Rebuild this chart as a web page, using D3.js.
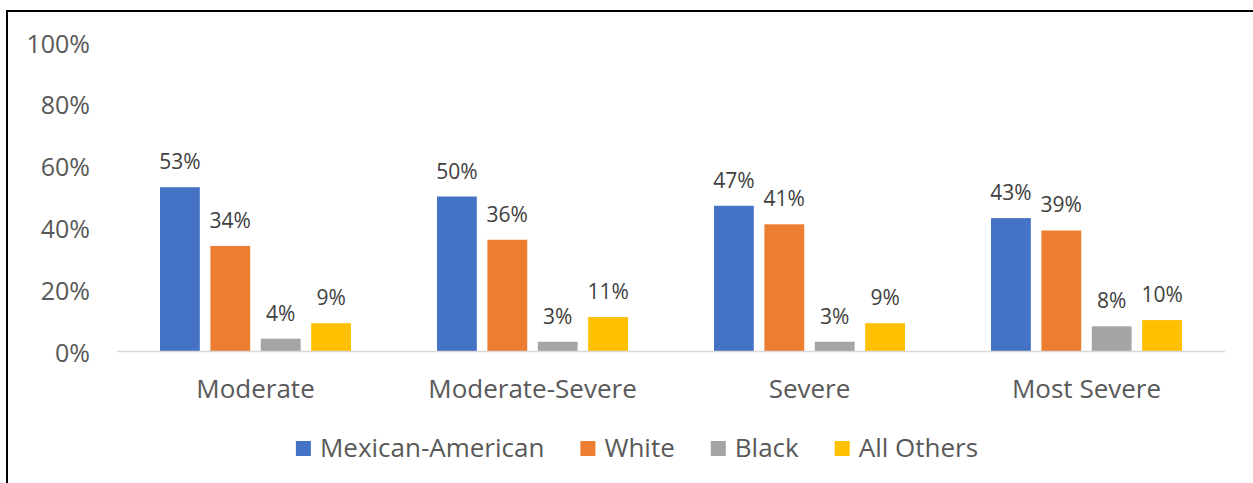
<!DOCTYPE html>
<html>
<head>
<meta charset="utf-8">
<script src="https://cdn.jsdelivr.net/npm/d3@7"></script>
<style>
  html, body { margin: 0; padding: 0; background: #fff; }
  svg { display: block; }
  text { font-family: "Open Sans", "Noto Sans", sans-serif; }
</style>
</head>
<body>
<svg id="chart" width="1253" height="483"></svg>
<script>
// Share of each group by severity level (percent)
const categories = ["Moderate", "Moderate-Severe", "Severe", "Most Severe"];
const seriesNames = ["Mexican-American", "White", "Black", "All Others"];
const mexicanAmerican = [53, 50, 47, 43];
const white = [34, 36, 41, 39];
const black = [4, 3, 3, 8];
const allOthers = [9, 11, 9, 10];
const yTicks = [0, 20, 40, 60, 80, 100];
const colors = ["#4472C4", "#ED7D31", "#A5A5A5", "#FFC000"];

const seriesValues = [mexicanAmerican, white, black, allOthers];
const rows = categories.map((c, i) => ({
  category: c,
  values: seriesNames.map((s, j) => ({ series: s, value: seriesValues[j][i], color: colors[j] }))
}));

const svg = d3.select("#chart");

// Outer frame (runs off the right and bottom edges)
svg.append("rect")
  .attr("x", 7).attr("y", 11)
  .attr("width", 1300).attr("height", 600)
  .attr("fill", "none").attr("stroke", "#000").attr("stroke-width", 2);

const plot = { left: 117, right: 1225, top: 42, bottom: 351 };

const y = d3.scaleLinear().domain([0, 100]).range([plot.bottom, plot.top]);
const x0 = d3.scaleBand().domain(categories).range([plot.left, plot.right]).padding(0);
const groupWidth = 191;
const x1 = d3.scaleBand().domain(seriesNames).range([0, groupWidth]).paddingInner(0.21).paddingOuter(0);
const groupOffset = (x0.bandwidth() - groupWidth) / 2;

// Y axis labels
const yAxis = d3.axisLeft(y).tickValues(yTicks).tickFormat(d => d + "%").tickSize(0).tickPadding(0);
const yg = svg.append("g").attr("transform", `translate(90,0)`).call(yAxis);
yg.select(".domain").remove();
yg.selectAll("text")
  .attr("font-family", "Open Sans, sans-serif")
  .attr("font-size", 25).attr("fill", "#595959")
  .attr("dy", null).attr("dominant-baseline", "central");

// Bars
const groups = svg.append("g").selectAll("g").data(rows).join("g")
  .attr("transform", d => `translate(${x0(d.category) + groupOffset},0)`);

groups.selectAll("rect").data(d => d.values).join("rect")
  .attr("x", d => x1(d.series))
  .attr("y", d => y(d.value))
  .attr("width", x1.bandwidth())
  .attr("height", d => y(0) - y(d.value))
  .attr("fill", d => d.color);

// Value labels
groups.selectAll("text.val").data(d => d.values).join("text")
  .attr("class", "val")
  .attr("x", d => x1(d.series) + x1.bandwidth() / 2)
  .attr("y", d => y(d.value) - 18)
  .attr("text-anchor", "middle")
  .attr("font-size", 21).attr("fill", "#404040")
  .text(d => d.value + "%");

// Baseline
svg.append("line")
  .attr("x1", plot.left).attr("x2", plot.right)
  .attr("y1", y(0) + 0.5).attr("y2", y(0) + 0.5)
  .attr("stroke", "#D9D9D9").attr("stroke-width", 1.5);

// Category axis labels
const xAxis = d3.axisBottom(x0).tickSize(0).tickPadding(0);
const xg = svg.append("g").attr("transform", `translate(0,${plot.bottom})`).call(xAxis);
xg.select(".domain").remove();
xg.selectAll("text")
  .attr("font-family", "Open Sans, sans-serif")
  .attr("font-size", 26).attr("fill", "#595959")
  .attr("dy", null).attr("y", 47);

// Legend
const legend = svg.append("g");
const items = legend.selectAll("g").data(seriesNames).join("g");
items.append("rect")
  .attr("width", 15).attr("height", 15)
  .attr("y", 441)
  .attr("fill", (d, i) => colors[i]);
items.append("text")
  .attr("x", 24).attr("y", 457)
  .attr("font-size", 26).attr("fill", "#595959")
  .text(d => d);
let cursor = 0;
const positions = [];
items.each(function () {
  positions.push(cursor);
  const w = d3.select(this).select("text").node().getComputedTextLength();
  cursor += 24 + w + 36;
});
const totalWidth = cursor - 36;
const startX = 637 - totalWidth / 2;
items.attr("transform", (d, i) => `translate(${startX + positions[i]},0)`);
</script>
</body>
</html>
